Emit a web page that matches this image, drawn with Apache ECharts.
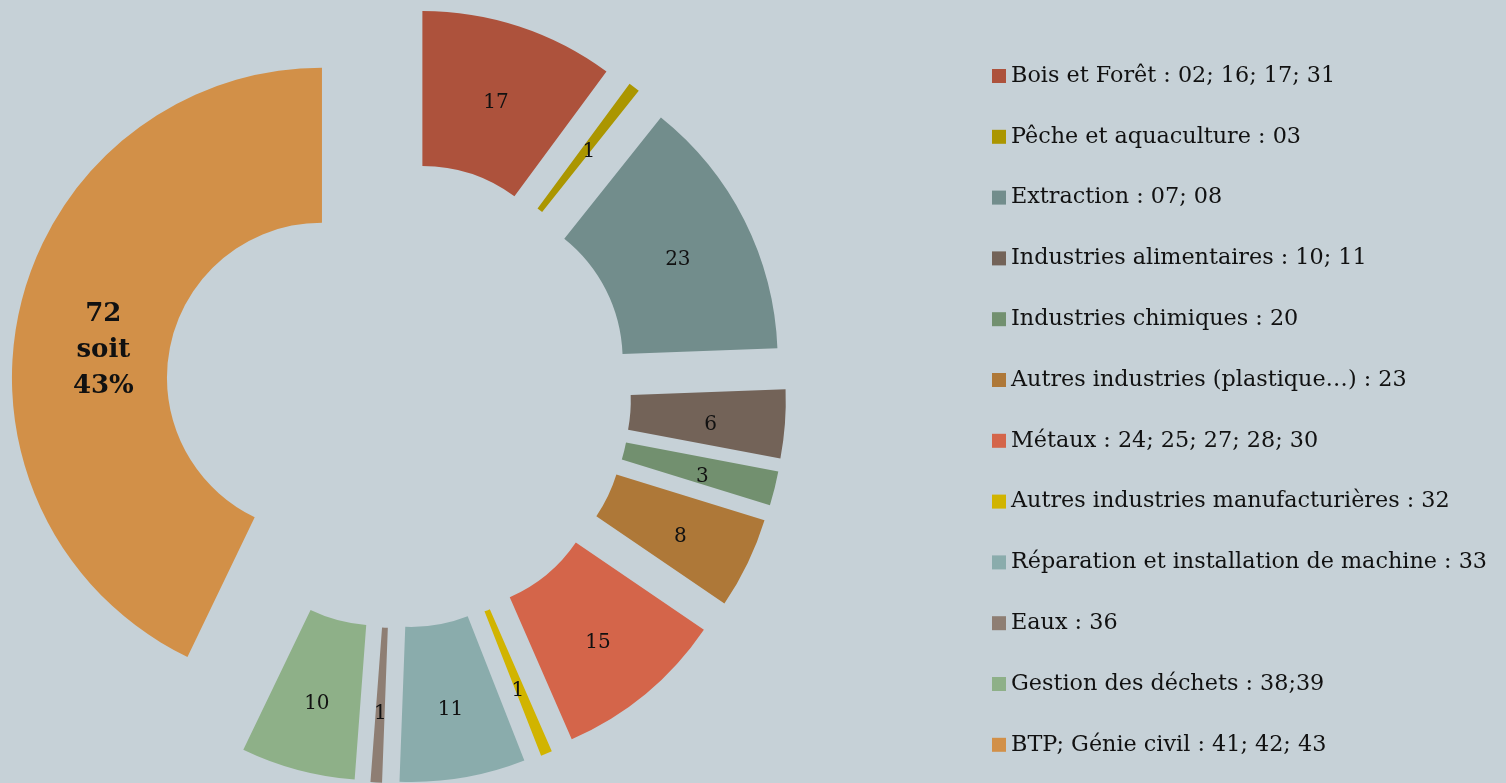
<!DOCTYPE html>
<html>
<head>
<meta charset="utf-8">
<script src="https://cdn.jsdelivr.net/npm/echarts@6/dist/echarts.min.js"></script>
<style>
  html, body { margin: 0; padding: 0; background: #c6d1d7; }
  #chart { width: 1506px; height: 783px; }
</style>
</head>
<body>
<div id="chart"></div>
<script>
// secteurs et nombre d'établissements
const secteurs = [
  'Bois et Forêt : 02; 16; 17; 31',
  'Pêche et aquaculture : 03',
  'Extraction : 07; 08',
  'Industries alimentaires : 10; 11',
  'Industries chimiques : 20',
  'Autres industries (plastique…) : 23',
  'Métaux : 24; 25; 27; 28; 30',
  'Autres industries manufacturières : 32',
  'Réparation et installation de machine : 33',
  'Eaux : 36',
  'Gestion des déchets : 38;39',
  'BTP; Génie civil : 41; 42; 43'
]
const valeurs = [17, 1, 23, 6, 3, 8, 15, 1, 11, 1, 10, 72]
const couleurs = ['#ad523c', '#ab9600', '#728d8c', '#736358', '#72906f', '#ae7838',
  '#d4654a', '#d1b400', '#8aacac', '#8e7e73', '#8eb088', '#d29048']

const chart = echarts.init(document.getElementById('chart'))
const total = valeurs.reduce((a, b) => a + b, 0)
const font = '"DejaVu Serif", "Liberation Serif", serif'

let data = secteurs.map((nom, i) => {
  let item = {
    name: nom,
    value: valeurs[i],
    selected: true,
    itemStyle: { color: couleurs[i] }
  }
  // la grosse part BTP en gras avec le pourcentage
  if (i === secteurs.length - 1) {
    let pct = Math.round(valeurs[i] / total * 100)
    item.label = {
      formatter: '{big|}\n{b|' + valeurs[i] + '}\n{b|soit}\n{b|' + pct + '%}'
    }
  }
  return item
})

chart.setOption({
  backgroundColor: '#c6d1d7',
  animation: false,
  legend: {
    orient: 'vertical',
    left: 987,
    top: 56,
    icon: 'rect',
    itemWidth: 14,
    itemHeight: 14,
    itemGap: 30.8,
    selectedMode: false,
    textStyle: { fontFamily: font, fontSize: 22.3, color: '#111', lineHeight: 30 }
  },
  series: [{
    type: 'pie',
    center: [398, 395],
    radius: [155, 310],
    startAngle: 90,
    clockwise: true,
    selectedMode: 'multiple',
    selectedOffset: 78,
    avoidLabelOverlap: false,
    label: {
      show: true,
      position: 'inside',
      formatter: '{sp|}\n{v|{c}}',
      rich: {
        sp: { height: 12, lineHeight: 12 },
        v: { fontFamily: font, fontSize: 20, color: '#111' },
        big: { height: 50, lineHeight: 50 },
        b: {
          fontFamily: font, fontWeight: 'bold', fontSize: 26, lineHeight: 36,
          color: '#111', padding: [0, 0, 0, 22]
        }
      }
    },
    labelLine: { show: false },
    emphasis: { disabled: true },
    select: { itemStyle: { borderWidth: 0 } },
    itemStyle: { borderWidth: 0 },
    data: data
  }]
})
</script>
</body>
</html>
